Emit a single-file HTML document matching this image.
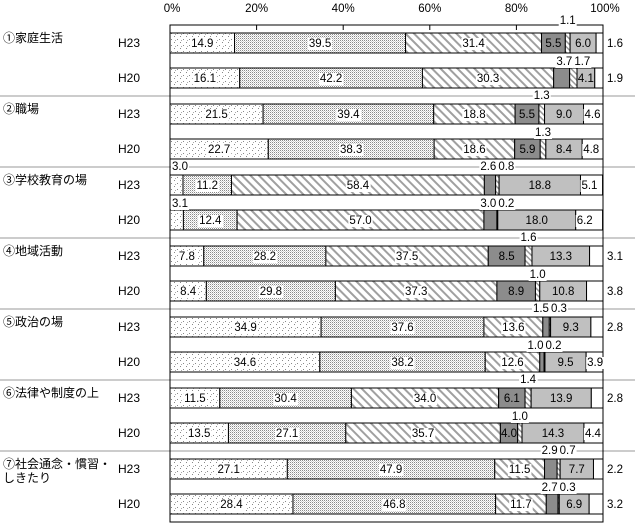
<!DOCTYPE html>
<html><head><meta charset="utf-8"><style>
html,body{margin:0;padding:0;background:#fff;}
svg{display:block;font-family:"Liberation Sans","Noto Sans CJK JP",sans-serif;}
</style></head><body>
<svg id="chart" width="635" height="530" viewBox="0 0 635 530" xmlns="http://www.w3.org/2000/svg">
<defs>
<pattern id="p1" width="6" height="6" patternUnits="userSpaceOnUse"><rect width="6" height="6" fill="#fff"/><rect x="0" y="0" width="1" height="1" fill="#888"/><rect x="3" y="3" width="1" height="1" fill="#888"/><rect x="1" y="4" width="1" height="1" fill="#aaa"/></pattern>
<pattern id="p2" width="2" height="2" patternUnits="userSpaceOnUse"><rect width="2" height="2" fill="#fff"/><rect width="1" height="1" fill="#8a8a8a"/><rect x="1" y="1" width="1" height="1" fill="#d0d0d0"/></pattern>
<pattern id="p3" width="6" height="6" patternUnits="userSpaceOnUse" patternTransform="rotate(45)"><rect width="6" height="6" fill="#fff"/><rect width="6" height="2" fill="#a0a0a0"/></pattern>
<pattern id="p5" width="4" height="4" patternUnits="userSpaceOnUse" patternTransform="rotate(45)"><rect width="4" height="4" fill="#fff"/><rect width="4" height="1.5" fill="#999"/></pattern>
</defs>
<g id="plot"></g>
</svg>
<script>
const categories = ["①家庭生活","②職場","③学校教育の場","④地域活動","⑤政治の場","⑥法律や制度の上","⑦社会通念・慣習・しきたり"];
const years = ["H23","H20"];
const valuesH23 = [
 [14.9,39.5,31.4,5.5,1.1,6.0,1.6],
 [21.5,39.4,18.8,5.5,1.3,9.0,4.6],
 [3.0,11.2,58.4,2.6,0.8,18.8,5.1],
 [7.8,28.2,37.5,8.5,1.6,13.3,3.1],
 [34.9,37.6,13.6,1.5,0.3,9.3,2.8],
 [11.5,30.4,34.0,6.1,1.4,13.9,2.8],
 [27.1,47.9,11.5,2.9,0.7,7.7,2.2]];
const valuesH20 = [
 [16.1,42.2,30.3,3.7,1.7,4.1,1.9],
 [22.7,38.3,18.6,5.9,1.3,8.4,4.8],
 [3.1,12.4,57.0,3.0,0.2,18.0,6.2],
 [8.4,29.8,37.3,8.9,1.0,10.8,3.8],
 [34.6,38.2,12.6,1.0,0.2,9.5,3.9],
 [13.5,27.1,35.7,4.0,1.0,14.3,4.4],
 [28.4,46.8,11.7,2.7,0.3,6.9,3.2]];
const tickLabels = ["0%","20%","40%","60%","80%","100%"];
const tickValues = [0,20,40,60,80,100];

const NS="http://www.w3.org/2000/svg";
const g=document.getElementById('plot');
const X0=170,X1=603;
function x(v){return X0+v/100*(X1-X0);}
function el(t,a,p){const e=document.createElementNS(NS,t);for(const k in a)e.setAttribute(k,a[k]);(p||g).appendChild(e);return e;}
function txt(s,cx,cy,anchor,bg,name,fs){
  const t=el('text',{x:cx,y:cy+4,'font-size':fs||11.5,'text-anchor':anchor||'middle',fill:'#000'});
  t.textContent=s;
  
  
  if(bg){const bb=t.getBBox();const r=el('rect',{x:bb.x-1,y:bb.y,width:bb.width+2,height:bb.height,fill:'#fff'});
    
    
    g.insertBefore(r,t);}
  return t;
}
const fills=['url(#p1)','url(#p2)','url(#p3)','#8c8c8c','url(#p5)','#c0c0c0','#fff'];
const GH=71;
for(let k=1;k<7;k++){const y=25+GH*k;
  const l=el('line',{x1:0,y1:y,x2:635,y2:y,stroke:'#999','stroke-width':1});
  
  
}
const fr=el('rect',{x:X0,y:25,width:X1-X0,height:GH*7,fill:'none',stroke:'#000','stroke-width':1});


tickValues.forEach((v,i)=>{
  const tl=el('line',{x1:x(v),y1:25,x2:x(v),y2:30,stroke:'#000'});
  
  
  txt(tickLabels[i],x(v)+(i==5?2:(i==0?2:0)),8,'middle',false,'x-tick-label',11.5);
});
categories.forEach((c,gi)=>{
  const base=25+GH*gi;
  const lines=c==="⑦社会通念・慣習・しきたり"?["⑦社会通念・慣習・","しきたり"]:[c];
  lines.forEach((s,li)=>txt(s,3,base+13+li*14,'start',false,'category-label',12));
  [valuesH23[gi],valuesH20[gi]].forEach((vals,ri)=>{
    const top=base+8+ri*35, cy=top+10;
    txt(years[ri],118,cy,'start',false,'year-label',12);
    let acc=0; const pos=[];
    vals.forEach((v,si)=>{
      const xa=x(acc), xb=x(Math.min(100,acc+v));
      const r=el('rect',{x:xa,y:top,width:Math.max(0,xb-xa),height:20,fill:fills[si],stroke:'#000','stroke-width':1});
      
      
      pos.push([xa,xb]); acc+=v;
    });
    const ty = ri===0 ? (gi===0?20:base-1) : top-7;
    for(let si=0;si<3;si++){
      const v=vals[si],[a,b]=pos[si];
      if(v>=4) txt(v.toFixed(1),(a+b)/2,cy,'middle',true);
      else txt(v.toFixed(1),a+2,ty,'start',true);
    }
    const v4=vals[3],v5=vals[4];
    if(v4>=4){txt(v4.toFixed(1),(pos[3][0]+pos[3][1])/2,cy,'middle',false);
      txt(v5.toFixed(1),(pos[4][0]+pos[4][1])/2,ty,'middle',true);}
    else{const m=(pos[4][0]+pos[4][1])/2;
      txt(v4.toFixed(1),m-1,ty,'end',true);
      txt(v5.toFixed(1),m+1,ty,'start',true);}
    txt(vals[5].toFixed(1),(pos[5][0]+pos[5][1])/2,cy,'middle',false);
    if(vals[6]>=3.9) txt(vals[6].toFixed(1),pos[6][0]+1,cy,'start',true);
    else txt(vals[6].toFixed(1),607,cy,'start',false);
  });
});
</script>
</body></html>
